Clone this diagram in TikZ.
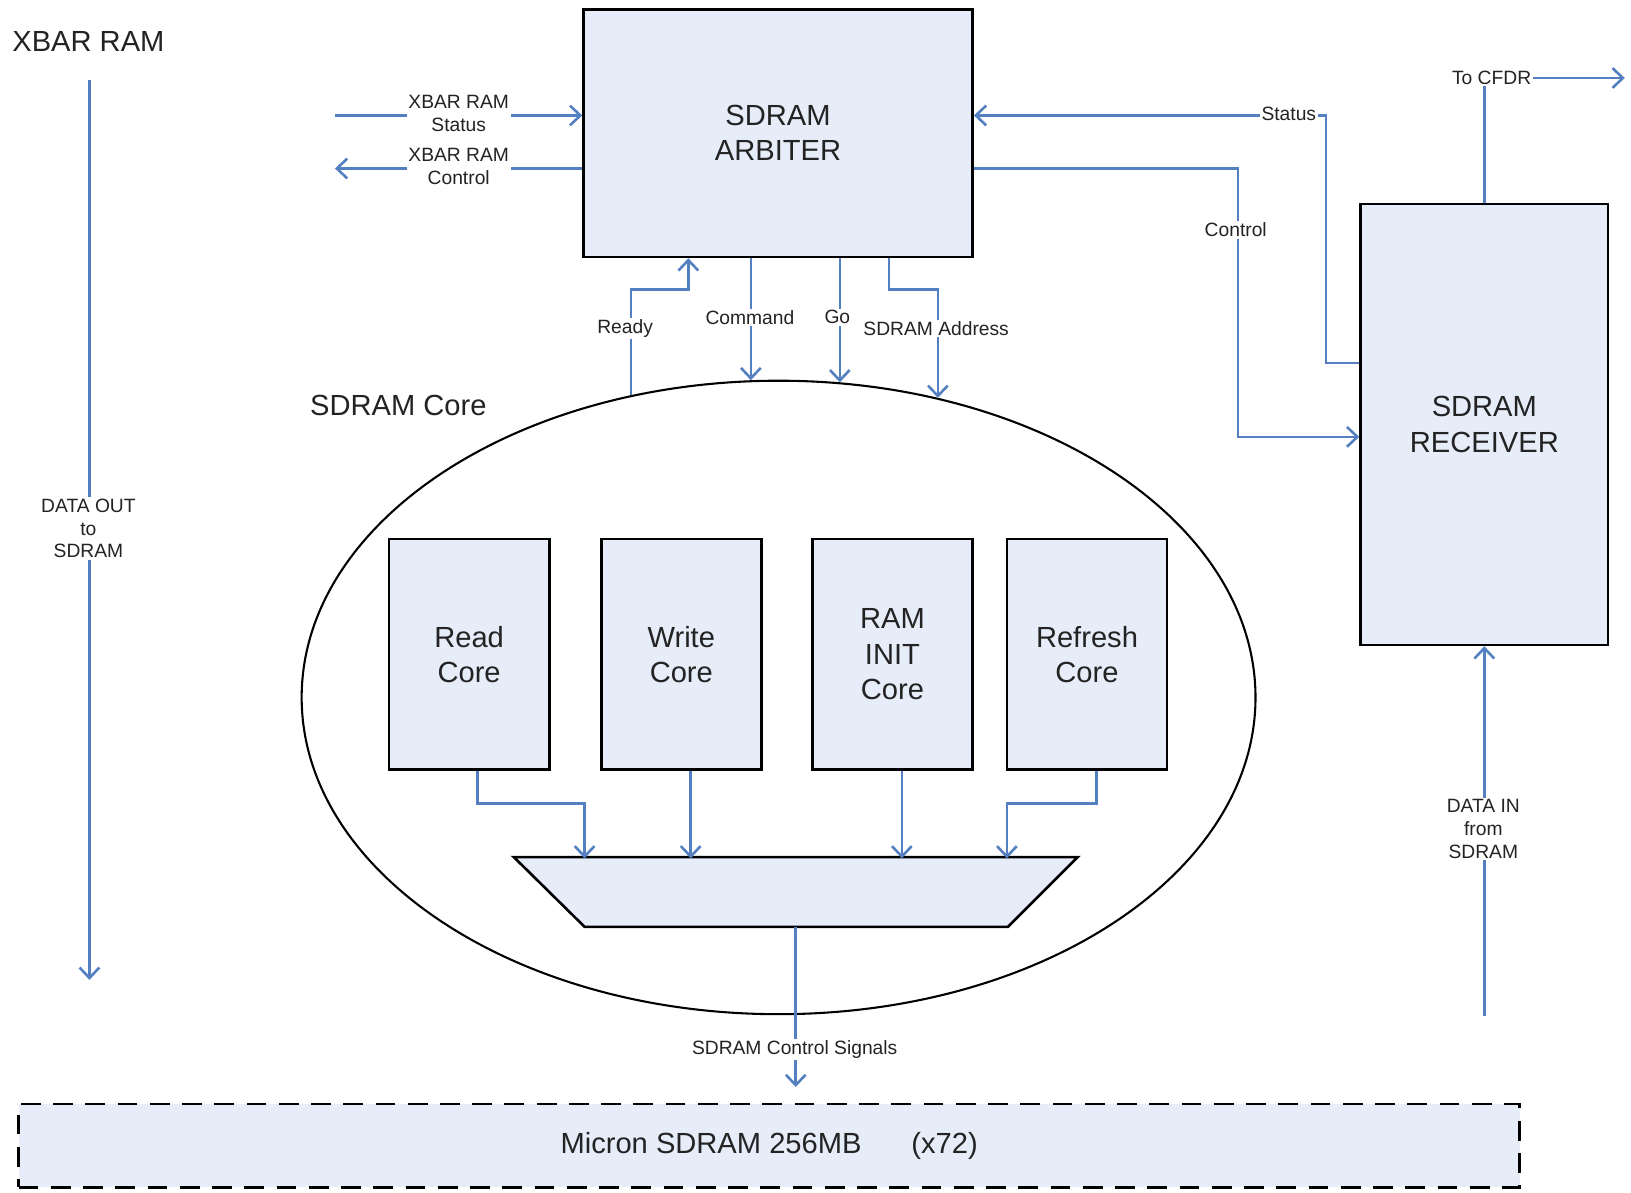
\documentclass[tikz,border=0pt]{standalone}
\usepackage{fontspec}
\setmainfont{Liberation Sans}
\usetikzlibrary{arrows.meta,shapes.geometric}
\definecolor{linkblue}{RGB}{84,128,194}
\definecolor{boxfill}{RGB}{230,236,248}
\definecolor{txt}{RGB}{35,35,35}
\begin{document}
\begin{tikzpicture}[x=1pt,y=-1pt,
  blk/.style={draw=black, line width=2.5pt, fill=boxfill, inner sep=0pt, align=center, text=txt, font=\fontsize{28}{34}\selectfont},
  sig/.style={draw=linkblue, line width=2.5pt},
  arr/.style={sig, -{Straight Barb[length=10pt,width=19pt,line width=2.5pt]}},
  lbl/.style={fill=white, inner sep=1.5pt, align=center, text=txt, font=\fontsize{18.5}{22}\selectfont},
  big/.style={inner sep=0pt, align=center, text=txt, font=\fontsize{28}{34}\selectfont}]
\useasboundingbox (0,0) rectangle (1568,1146);

% titles
\node[big] (xbar) at (85,40) {XBAR RAM};
\node[big] (coret) at (383,390) {SDRAM Core};

% main blocks
\node[blk, minimum width=374pt, minimum height=238pt] (arb) at (748,128) {SDRAM\\ARBITER};
\node[blk, minimum width=238pt, minimum height=424pt] (rec) at (1427,408) {SDRAM\\RECEIVER};
\node[draw=black, line width=2pt, ellipse, inner sep=0pt, minimum width=917pt, minimum height=609pt] (core) at (748.5,670.5) {};
\node[blk, minimum width=154pt, minimum height=222pt] (rd) at (451,629) {Read\\Core};
\node[blk, minimum width=154pt, minimum height=222pt] (wr) at (655,629) {Write\\Core};
\node[blk, minimum width=154pt, minimum height=222pt] (ini) at (858,629) {RAM\\INIT\\Core};
\node[blk, minimum width=154pt, minimum height=222pt] (ref) at (1045,629) {Refresh\\Core};

% multiplexer
\coordinate (mtl) at (494,824);
\coordinate (mtr) at (1036,824);
\coordinate (mbr) at (969,891);
\coordinate (mbl) at (562,891);
\coordinate (mbot) at (765,891);
\draw[blk] (mtl) -- (mtr) -- (mbr) -- (mbl) -- cycle;

% memory
\node[draw=black, line width=2.5pt, dash pattern=on 19pt off 12pt, fill=boxfill, minimum width=1443pt, minimum height=80pt, inner sep=0pt, text=txt, font=\fontsize{28}{34}\selectfont] (mic) at (739.5,1101.5) {\raisebox{-3pt}{Micron SDRAM 256MB\hspace{48pt}(x72)}};

% free ends
\coordinate (xs) at (322,111);
\coordinate (xc) at (322,162);
\coordinate (cfdr) at (1562,75);
\coordinate (din) at (1427,977);
\coordinate (dot) at (86,77);
\coordinate (dob) at (86,942);

% connectors
\draw[arr] (dot) -- (dob);
\draw[arr] (xs) -- ([yshift=17pt]arb.west);
\draw[arr] ([yshift=-34pt]arb.west) -- (xc);
\draw[arr] ([yshift=59pt]rec.west) -- ++(-32,0) |- ([yshift=17pt]arb.east);
\draw[arr] ([yshift=-34pt]arb.east) -- ++(254,0) |- ([yshift=-12pt]rec.west);
\draw[arr] (rec.north) |- (cfdr);
\draw[arr] (din) -- (rec.south);

\draw[arr] (core.116.57) |- ([xshift=102pt,yshift=-30pt]arb.south west) -- ([xshift=102pt]arb.south west);
\draw[arr] (arb.south -| core.95) -- (core.95);
\draw[arr] (arb.south -| core.79.2) -- (core.79.2);
\draw[arr] ([xshift=295pt]arb.south west) -- ++(0,30) -| (core.62.2);

\draw[arr] ([xshift=8pt]rd.south) |- ++(103,31) -- ++(0,53);
\draw[arr] ([xshift=9pt]wr.south) -- ++(0,84);
\draw[arr] ([xshift=9pt]ini.south) -- ++(0,84);
\draw[arr] ([xshift=9pt]ref.south) |- ++(-86,31) -- ++(0,53);
\draw[arr] (mbot) -- ++(0,154);

% labels
\node[lbl] (l1) at (85,508) {DATA OUT\\to\\SDRAM};
\node[lbl] (l2) at (441,109) {XBAR RAM\\Status};
\node[lbl] (l3) at (441,160) {XBAR RAM\\Control};
\node[lbl] (l4) at (1239,109) {Status};
\node[lbl] (l5) at (1188,221) {Control};
\node[lbl] (l6) at (1434,75) {To CFDR};
\node[lbl] (l7) at (1426,797) {DATA IN\\from\\SDRAM};
\node[lbl] (l8) at (601,316) {Ready};
\node[lbl] (l9) at (721,305) {Command};
\node[lbl] (l10) at (805,305) {Go};
\node[lbl] (l11) at (900,316) {SDRAM Address};
\node[lbl] (l12) at (764,1009) {SDRAM Control Signals};
\end{tikzpicture}
\end{document}
